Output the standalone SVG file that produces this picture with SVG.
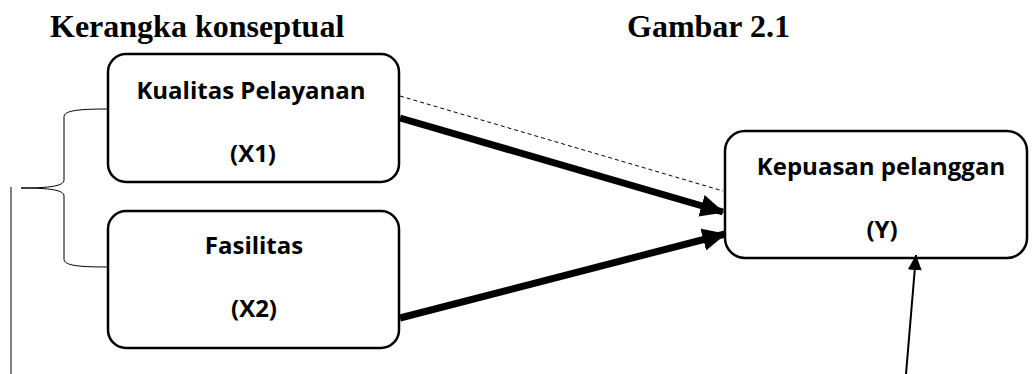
<svg xmlns="http://www.w3.org/2000/svg" width="1032" height="374" viewBox="0 0 1032 374">
<style>
.box{fill:#fff;stroke:#000;stroke-width:2.5}
.lbl{font-family:"Open Sans","Liberation Sans",sans-serif;font-weight:bold;font-size:24px;text-anchor:middle;fill:#000}
.title{font-family:"Liberation Serif",serif;font-weight:bold;font-size:32px;fill:#000}
.thick{stroke:#000;stroke-width:7;fill:none}
</style>
<defs>
<marker id="ah" markerWidth="3.4" markerHeight="3.2" refX="3.2" refY="1.6" orient="auto" markerUnits="strokeWidth">
<path d="M0,0 L3.4,1.6 L0,3.2 z" fill="#000"/>
</marker>
<marker id="ah2" markerWidth="15" markerHeight="14" refX="15" refY="7" orient="auto" markerUnits="userSpaceOnUse">
<path d="M0,0 L15,7 L0,14 z" fill="#000"/>
</marker>
</defs>
<text class="title" x="50" y="37">Kerangka konseptual</text>
<text class="title" x="627" y="37">Gambar 2.1</text>
<g id="brace">
<path d="M108,109 C75,109 64,111 64,117 L64,180 C64,186 50,188 21,188 C50,188 64,190 64,196 L64,259 C64,265 75,267 108,267" fill="none" stroke="#000" stroke-width="1"/>
<line x1="11" y1="187" x2="11" y2="374" stroke="#000" stroke-width="1"/>
</g>
<g id="x1">
<rect class="box" x="108" y="54" width="291" height="128" rx="18"/>
<text class="lbl" x="251" y="99">Kualitas Pelayanan</text>
<text class="lbl" x="253" y="162">(X1)</text>
</g>
<g id="x2">
<rect class="box" x="108" y="211" width="291" height="137" rx="18"/>
<text class="lbl" x="254" y="254">Fasilitas</text>
<text class="lbl" x="254" y="317">(X2)</text>
</g>
<g id="y">
<rect class="box" x="725" y="131" width="302" height="127" rx="20"/>
<text class="lbl" x="881" y="175">Kepuasan pelanggan</text>
<text class="lbl" x="882" y="238">(Y)</text>
</g>
<g id="connectors">
<line x1="400" y1="96" x2="723" y2="191" stroke="#000" stroke-width="1" stroke-dasharray="4,3"/>
<line class="thick" x1="400" y1="118" x2="723" y2="212" marker-end="url(#ah)"/>
<line class="thick" x1="400" y1="318" x2="725" y2="234" marker-end="url(#ah)"/>
<line x1="906" y1="374" x2="916" y2="255" stroke="#000" stroke-width="2" marker-end="url(#ah2)"/>
</g>
</svg>
